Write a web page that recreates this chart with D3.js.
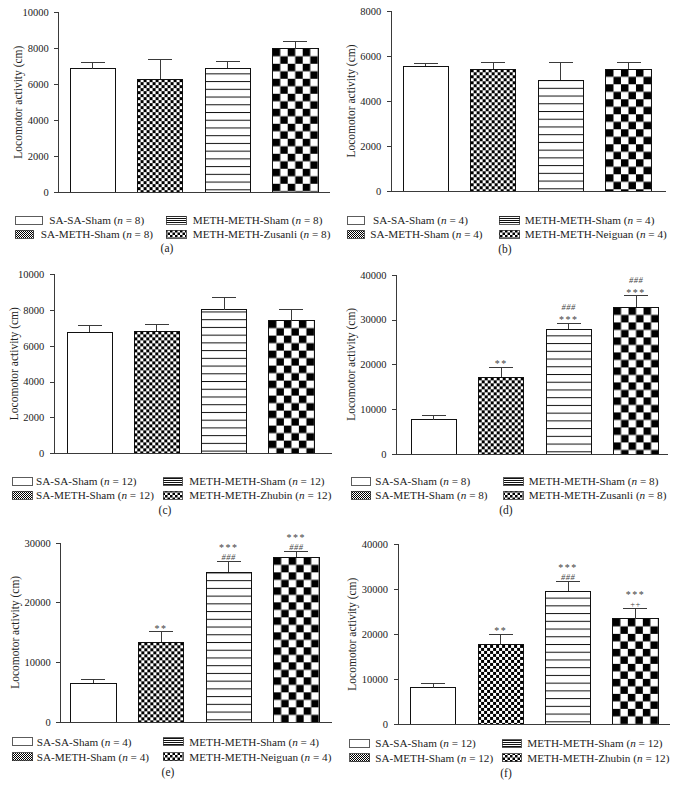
<!DOCTYPE html>
<html><head><meta charset="utf-8">
<script src="https://cdn.jsdelivr.net/npm/d3@7"></script>
<style>
html,body{margin:0;padding:0;background:#fff;}
text{font-family:"Liberation Serif","DejaVu Serif",serif;}
</style></head>
<body>
<svg id="chart" width="677" height="809"></svg>
<script>
// ---------- DATA ----------
const baseGroups = ["SA-SA-Sham", "SA-METH-Sham", "METH-METH-Sham", "METH-METH-"];
const treatments = ["Zusanli", "Neiguan", "Zhubin", "Zusanli", "Neiguan", "Zhubin"];
const nValues = [8, 4, 12, 8, 4, 12];
const panelLabels = ["(a)", "(b)", "(c)", "(d)", "(e)", "(f)"];
const yMaxes = [10000, 8000, 10000, 40000, 30000, 40000];
const yTickSteps = [2000, 2000, 2000, 10000, 10000, 10000];
const yAxisTitle = "Locomotor activity (cm)";

const meansA = [6850, 6280, 6900, 7970];
const semA   = [350, 1080, 350, 380];
const meansB = [5550, 5410, 4930, 5410];
const semB   = [130, 320, 800, 290];
const meansC = [6750, 6800, 8000, 7400];
const semC   = [350, 390, 670, 600];
const meansD = [7650, 17100, 27800, 32700];
const semD   = [980, 2240, 1350, 2600];
const meansE = [6470, 13330, 25040, 27550];
const semE   = [670, 1780, 1780, 940];
const meansF = [8100, 17600, 29600, 23400];
const semF   = [880, 2360, 2070, 2260];

// significance marks, listed top line first
const marksA = [[], [], [], []];
const marksB = [[], [], [], []];
const marksC = [[], [], [], []];
const marksD = [[], ["**"], ["###", "***"], ["###", "***"]];
const marksE = [[], ["**"], ["***", "###"], ["***", "###"]];
const marksF = [[], ["**"], ["***", "###"], ["***", "++"]];

const allMeans = [meansA, meansB, meansC, meansD, meansE, meansF];
const allSem = [semA, semB, semC, semD, semE, semF];
const allMarks = [marksA, marksB, marksC, marksD, marksE, marksF];

// ---------- LAYOUT ----------
const layout = [
  {axisX:58.7, axisEnd:330, bars:[70,318], yTop:12.3, yBot:192, labelX:18, legY:[220,234.3], cap:[167,248.3],
   leg:[[15,27,49.3],[15,18.5,40.7],[166,20,192.7],[166,20,192.7]]},
  {axisX:391.3, axisEnd:666, bars:[403,651.3], yTop:11, yBot:191, labelX:350.5, legY:[220,234], cap:[505,249],
   leg:[[347.3,17.3,373],[347.3,16.7,370.3],[499,20.7,524.7],[499,20.7,524.7]]},
  {axisX:54.3, axisEnd:332, bars:[67,314], yTop:274, yBot:453.3, labelX:14, legY:[481,495], cap:[165,510],
   leg:[[12,20,36],[12,20,36],[163,19.3,189.3],[163,19.3,189.3]]},
  {axisX:396.5, axisEnd:668, bars:[411.3,658.7], yTop:274.7, yBot:454, labelX:351, legY:[481,495], cap:[506,510],
   leg:[[351.3,19.3,375.3],[351.3,19.3,375.3],[503.7,19.3,528.7],[503.7,19.3,528.7]]},
  {axisX:60.7, axisEnd:331.7, bars:[70.7,319], yTop:542.7, yBot:722, labelX:14.7, legY:[741.7,756.7], cap:[168,771.7],
   leg:[[12,20.7,36.7],[12,20.7,36.7],[163.3,20,189.3],[163.3,20,189.3]]},
  {axisX:398, axisEnd:669.7, bars:[410.7,658], yTop:544.3, yBot:724, labelX:352, legY:[743.3,757.7], cap:[506,772.7],
   leg:[[349.7,20,375.3],[349.7,20,375.3],[502,19.3,527.3],[502,19.3,527.3]]}
];

const svg = d3.select("#chart");
const defs = svg.append("defs");
const axisColor = "#3a3a3a";

function checker(id, x, y, cell) {
  const p = defs.append("pattern").attr("id", id).attr("patternUnits", "userSpaceOnUse")
    .attr("x", x).attr("y", y).attr("width", cell * 2).attr("height", cell * 2);
  p.append("rect").attr("width", cell * 2).attr("height", cell * 2).attr("fill", "#fff");
  p.append("rect").attr("width", cell).attr("height", cell).attr("fill", "#000");
  p.append("rect").attr("x", cell).attr("y", cell).attr("width", cell).attr("height", cell).attr("fill", "#000");
}
function hlines(id, x, y, period, lw) {
  const p = defs.append("pattern").attr("id", id).attr("patternUnits", "userSpaceOnUse")
    .attr("x", x).attr("y", y).attr("width", 10).attr("height", period);
  p.append("rect").attr("width", 10).attr("height", period).attr("fill", "#fff");
  p.append("rect").attr("y", 0).attr("width", 10).attr("height", lw).attr("fill", "#111");
}

checker("legSmall", 0, 0, 1);
hlines("legLines", 0, 0, 2, 1);
checker("legBig", 0, 0, 2.5);

layout.forEach((L, pi) => {
  const g = svg.append("g");
  const means = allMeans[pi], sem = allSem[pi], marks = allMarks[pi];
  const groups = baseGroups.map((b, i) => i === 3 ? b + treatments[pi] : b);

  const y = d3.scaleLinear().domain([0, yMaxes[pi]]).range([L.yBot, L.yTop]);
  const x = d3.scaleBand().domain(groups).range(L.bars).paddingInner(0.33).paddingOuter(0);

  groups.forEach((gname, i) => {
    const bx = x(gname), bw = x.bandwidth(), top = y(means[i]);
    let fill = "#fff";
    if (i === 1) { checker(`s${pi}`, bx, top, 3); fill = `url(#s${pi})`; }
    if (i === 2) { hlines(`l${pi}`, bx, L.yBot - 2.7, 7.73, 1); fill = `url(#l${pi})`; }
    if (i === 3) { checker(`b${pi}`, bx, top, 7.5); fill = `url(#b${pi})`; }
    g.append("rect").attr("x", bx).attr("y", top).attr("width", bw).attr("height", L.yBot - top)
      .attr("fill", fill).attr("stroke", "#111").attr("stroke-width", 1).attr("shape-rendering", "crispEdges");
    const et = y(means[i] + sem[i]);
    const cx = bx + bw / 2;
    g.append("line").attr("x1", cx).attr("x2", cx).attr("y1", top).attr("y2", et)
      .attr("stroke", axisColor).attr("stroke-width", 1).attr("shape-rendering", "crispEdges");
    g.append("line").attr("x1", cx - 12).attr("x2", cx + 12).attr("y1", et).attr("y2", et)
      .attr("stroke", axisColor).attr("stroke-width", 1).attr("shape-rendering", "crispEdges");
    const m = marks[i];
    m.forEach((s, k) => {
      const level = m.length - 1 - k;
      const isAst = s[0] === "*";
      g.append("text").attr("x", cx).attr("y", et - (isAst ? 0 : 2) - level * 11)
        .attr("text-anchor", "middle").attr("font-size", isAst ? 10 : 8.5)
        .attr("font-style", s[0] === "#" ? "italic" : "normal")
        .attr("letter-spacing", isAst ? 1.5 : 0.5)
        .attr("fill", "#444").text(s);
    });
  });

  const ticks = d3.range(0, yMaxes[pi] + 1, yTickSteps[pi]);
  const ax = g.append("g").attr("transform", `translate(${L.axisX},0)`)
    .call(d3.axisLeft(y).tickValues(ticks).tickFormat(d3.format("d")).tickSize(4.5).tickPadding(5.5));
  ax.select(".domain").remove();
  ax.append("line").attr("x1", 0).attr("x2", 0).attr("y1", L.yTop).attr("y2", L.yBot)
    .attr("stroke", axisColor).attr("shape-rendering", "crispEdges");
  ax.selectAll(".tick line").attr("stroke", axisColor).attr("shape-rendering", "crispEdges");
  ax.selectAll(".tick text").attr("font-family", '"Liberation Serif",serif').attr("font-size", 10.5).attr("fill", "#222");
  g.append("line").attr("x1", L.axisX).attr("x2", L.axisEnd).attr("y1", L.yBot).attr("y2", L.yBot)
    .attr("stroke", axisColor).attr("shape-rendering", "crispEdges");

  g.append("text").attr("transform", `translate(${L.labelX},${(L.yTop + L.yBot) / 2}) rotate(-90)`)
    .attr("text-anchor", "middle").attr("dominant-baseline", "central")
    .attr("font-size", 11.5).attr("fill", "#222").text(yAxisTitle);

  const legFills = ["#fff", "url(#legSmall)", "url(#legLines)", "url(#legBig)"];
  const rowOf = [0, 1, 0, 1];
  groups.forEach((gname, i) => {
    const [sx, sw, tx] = L.leg[i];
    const cy = L.legY[rowOf[i]];
    g.append("rect").attr("x", sx).attr("y", cy - 4).attr("width", sw).attr("height", 8)
      .attr("fill", legFills[i]).attr("stroke", "#333").attr("stroke-width", 0.8).attr("shape-rendering", "crispEdges");
    const t = g.append("text").attr("x", tx).attr("y", cy).attr("dominant-baseline", "central")
      .attr("font-size", 11.2).attr("fill", "#222");
    t.append("tspan").text(gname + " (");
    t.append("tspan").attr("font-style", "italic").text("n");
    t.append("tspan").text(" = " + nValues[pi] + ")");
  });

  g.append("text").attr("x", L.cap[0]).attr("y", L.cap[1]).attr("text-anchor", "middle")
    .attr("dominant-baseline", "central").attr("font-size", 11.5).attr("fill", "#222").text(panelLabels[pi]);
});
</script>
</body></html>
